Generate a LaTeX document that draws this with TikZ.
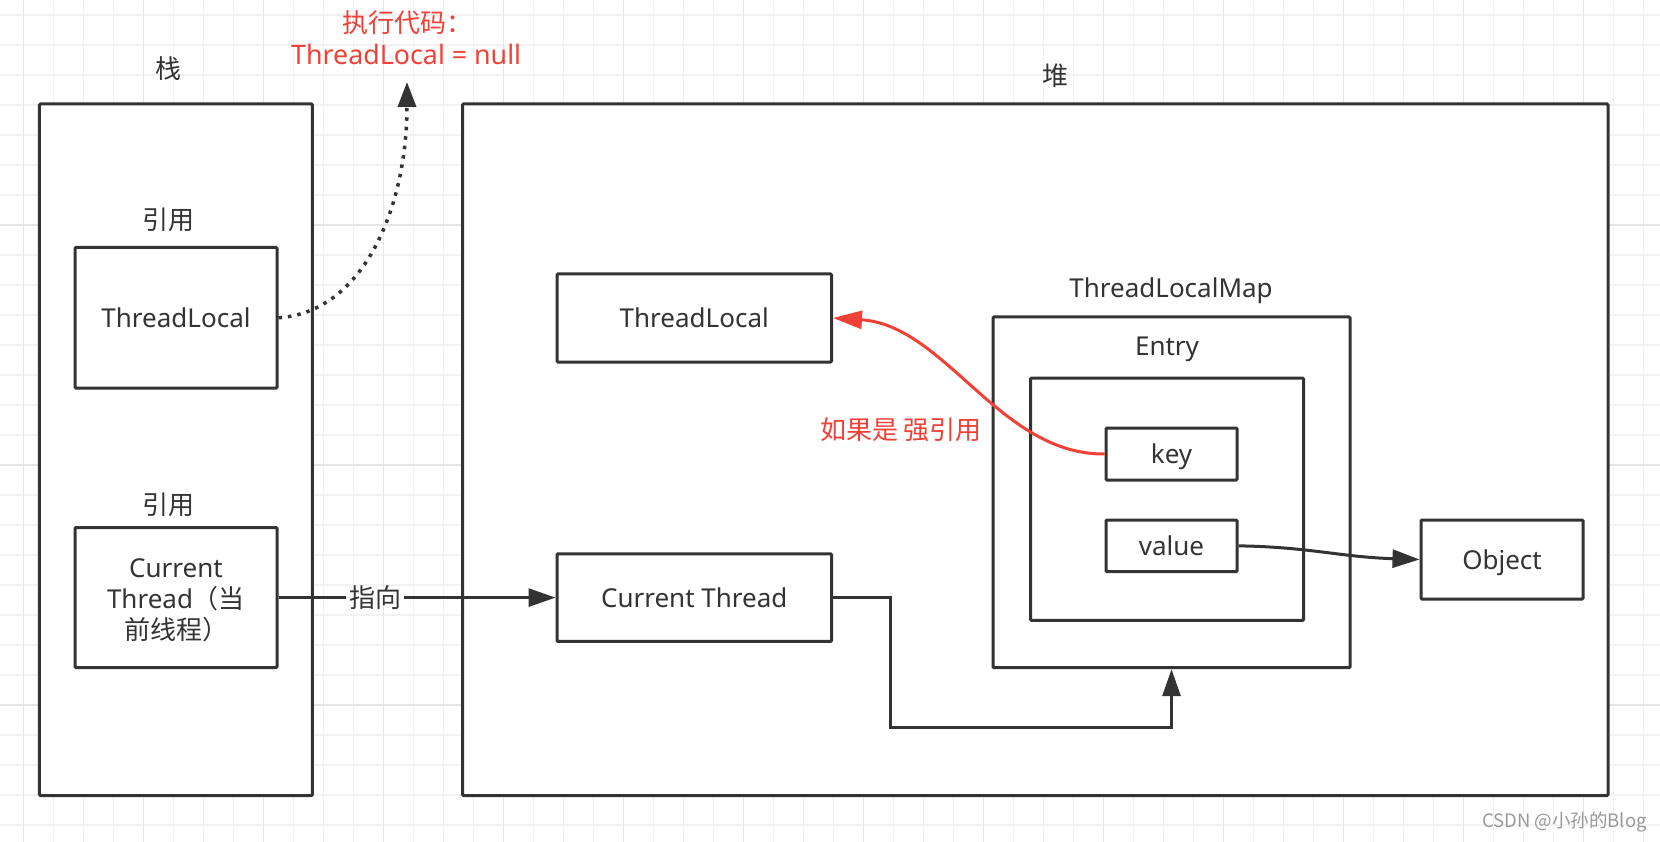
\documentclass[tikz,border=0pt]{standalone}
\usepackage{fontspec}
\setmainfont{Noto Sans}
\newfontfamily\cjk{Noto Sans CJK SC}
\usetikzlibrary{arrows.meta}
\definecolor{ink}{HTML}{333333}
\definecolor{redc}{RGB}{240,65,55}
\definecolor{gridminor}{HTML}{F2F2F2}
\definecolor{gridmajor}{HTML}{E5E5E5}
\newcommand{\myfs}{\fontsize{26pt}{31pt}\selectfont}
\begin{document}
\begin{tikzpicture}[x=1pt,y=-1pt,
  frame/.style={draw=ink, line width=3pt, fill=white, rounded corners=1pt, inner sep=0pt, text=ink, font=\myfs},
  box/.style={frame, text height=19pt, text depth=0pt},
  lbl/.style={text=ink, font=\myfs, inner sep=0pt, text height=19pt, text depth=0pt},
  conn/.style={draw=ink, line width=3pt, -{Triangle[length=27pt,width=18pt]}},
]
\useasboundingbox (0,0) rectangle (1660,842);
\fill[white] (0,0) rectangle (1660,842);
% grid
\foreach \i in {0,...,54} \draw[gridminor, line width=1.5pt] ({23.3+30*\i},0) -- ({23.3+30*\i},842);
\foreach \j in {0,...,27} \draw[gridminor, line width=1.5pt] (0,{15+30*\j}) -- (1660,{15+30*\j});
\foreach \i in {0,...,13} \draw[gridmajor, line width=1.5pt] ({23.3+120*\i},0) -- ({23.3+120*\i},842);
\foreach \y in {225,465,705} \draw[gridmajor, line width=1.5pt] (0,\y) -- (1660,\y);

% containers
\node[frame, minimum width=273pt, minimum height=691.5pt] (stack) at (175.9,449.75) {};
\node[frame, minimum width=1145.5pt, minimum height=691.5pt] (heap) at (1035.25,449.75) {};
\node[lbl] (stacklbl) at (168,69) {{\cjk 栈}};
\node[lbl] (heaplbl) at (1055.5,76) {{\cjk 堆}};

% stack contents
\node[lbl] (ref1) at (168,220.5) {{\cjk 引用}};
\node[box, minimum width=202pt, minimum height=140.5pt] (TL1) at (176,317.75) {ThreadLocal};
\node[lbl] (ref2) at (168,505) {{\cjk 引用}};
\node[frame, minimum width=202pt, minimum height=140pt] (CT1) at (176,597.6) {};
\node[text=ink, font=\myfs, inner sep=0pt, align=center] (CT1txt) at (176,600) {Current\\Thread{\cjk （当}\\{\cjk 前线程）}};

% heap contents
\node[box, minimum width=274.5pt, minimum height=88pt] (TL2) at (694.25,318) {ThreadLocal};
\node[box, minimum width=274.5pt, minimum height=87.7pt] (CT2) at (694.25,597.6) {Current Thread};
\node[lbl] (tlmlbl) at (1171,288) {ThreadLocalMap};
\node[frame, minimum width=357pt, minimum height=350.7pt] (TLM) at (1171.5,492.35) {};
\node[lbl] (entrylbl) at (1167,346) {Entry};
\node[frame, minimum width=273pt, minimum height=242.3pt] (entry) at (1167.15,499.2) {};
\node[box, minimum width=131pt, minimum height=52pt] (key) at (1171.5,454) {key};
\node[box, minimum width=131pt, minimum height=51.7pt] (value) at (1171.5,545.85) {value};
\node[box, minimum width=162pt, minimum height=79pt] (obj) at (1502,559.5) {Object};

% annotations
\node[lbl, text=redc, anchor=west] (exec) at (342,23) {{\cjk 执行代码：}};
\node[lbl, text=redc, anchor=west, font=\fontsize{26.8pt}{31pt}\selectfont] (nullcode) at (291,55) {ThreadLocal = null};
\node[lbl, text=redc] (strong) at (901,430) {{\cjk 如果是 强引用}};
\node[text=black!40, font=\cjk\fontsize{18.5pt}{20pt}\selectfont, inner sep=0pt, anchor=east] (wm) at (1647,822) {CSDN @小孙的Blog};

% connectors
\coordinate (nulltip) at (407,82);
\draw[draw=ink, line width=3.5pt, dash pattern=on 3.5pt off 6pt, -{Triangle[length=25pt,width=18pt]}]
  (TL1.east) .. controls (365,312) and (407,205) .. (nulltip);
\draw[conn] (CT1.east) -- node[pos=0.35, fill=white, text=ink, font=\myfs, inner xsep=3pt, inner ysep=0pt, text height=19pt, text depth=0pt] (pointlbl) {{\cjk 指向}} (CT2.west);
\coordinate (bend) at (890.7,727.5);
\draw[conn] (CT2.east) -| (bend) -| (TLM.south);
\draw[conn] (value.east) .. controls (1310,547) and (1340,557) .. (obj.west);
\draw[draw=redc, line width=3pt, -{Triangle[length=29pt,width=18pt]}]
  (key.west) .. controls (1000,455) and (945,325) .. (TL2.east);
\end{tikzpicture}
\end{document}
